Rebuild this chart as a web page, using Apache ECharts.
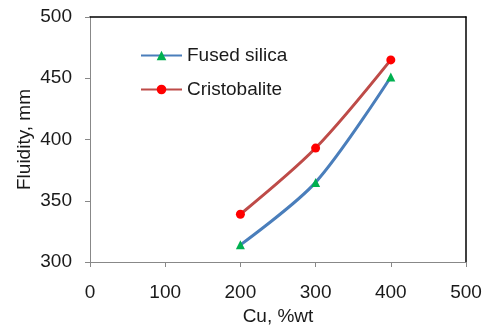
<!DOCTYPE html>
<html><head><meta charset="utf-8">
<script src="https://cdn.jsdelivr.net/npm/echarts@6/dist/echarts.min.js"></script>
<style>html,body{margin:0;padding:0;background:#fff}#c{width:484px;height:329px}</style>
</head><body><div id="c"></div>
<script>
const categories = [200, 300, 400];
const fusedSilica = [314, 365, 451];
const cristobalite = [339, 393, 465];
const seriesNames = ['Fused silica', 'Cristobalite'];
const xTicks = [0, 100, 200, 300, 400, 500];
const yTicks = [300, 350, 400, 450, 500];

const font = 'Liberation Sans, Arial, sans-serif';
const txt = '#1a1a1a';
const fs = 19;
const chart = echarts.init(document.getElementById('c'));
chart.setOption({
  animation: false,
  backgroundColor: '#fff',
  grid: {left: 90, right: 18, top: 17, bottom: 67, containLabel: false, outerBoundsMode: 'none'},
  legend: {
    orient: 'vertical', left: 135, top: 41, itemGap: 15,
    itemWidth: 41, itemHeight: 12,
    textStyle: {fontFamily: font, fontSize: fs, color: txt},
    data: seriesNames
  },
  xAxis: [{
    type: 'value', min: xTicks[0], max: xTicks[xTicks.length-1], interval: 100,
    name: 'Cu, %wt', nameLocation: 'middle', nameGap: 45, nameMoveOverlap: false,
    nameTextStyle: {fontFamily: font, fontSize: fs, color: txt},
    axisLine: {show: true, lineStyle: {color: '#888', width: 1}},
    axisTick: {show: true, inside: false, length: 5, lineStyle: {color: '#888'}},
    axisLabel: {fontFamily: font, fontSize: fs, color: txt, margin: 21},
    splitLine: {show: false}
  }, {
    type: 'value', position: 'top', min: 0, max: 500,
    axisLine: {show: true, onZero: false, lineStyle: {color: '#000', width: 1.5}},
    axisTick: {show: false}, axisLabel: {show: false}, splitLine: {show: false}
  }],
  yAxis: [{
    type: 'value', min: yTicks[0], max: yTicks[yTicks.length-1], interval: 50,
    name: 'Fluidity, mm', nameLocation: 'middle', nameGap: 56, nameRotate: 90, nameMoveOverlap: false,
    nameTextStyle: {fontFamily: font, fontSize: fs, color: txt},
    axisLine: {show: true, lineStyle: {color: '#888', width: 1}},
    axisTick: {show: true, inside: false, length: 5, lineStyle: {color: '#888'}},
    axisLabel: {fontFamily: font, fontSize: fs, color: txt, margin: 18},
    splitLine: {show: false}
  }, {
    type: 'value', position: 'right', min: 300, max: 500,
    axisLine: {show: true, onZero: false, lineStyle: {color: '#000', width: 1.5}},
    axisTick: {show: false}, axisLabel: {show: false}, splitLine: {show: false}
  }],
  series: [{
    name: seriesNames[0], type: 'line', smooth: 0.3,
    data: categories.map((c, i) => [c, fusedSilica[i]]),
    symbol: 'triangle', symbolSize: 9,
    lineStyle: {color: '#4a7ebb', width: 3},
    itemStyle: {color: '#00b050', borderWidth: 0}
  }, {
    name: seriesNames[1], type: 'line', smooth: 0.3,
    data: categories.map((c, i) => [c, cristobalite[i]]),
    symbol: 'circle', symbolSize: 9,
    lineStyle: {color: '#be4b48', width: 3},
    itemStyle: {color: '#ff0000', borderWidth: 0}
  }]
});
</script></body></html>
